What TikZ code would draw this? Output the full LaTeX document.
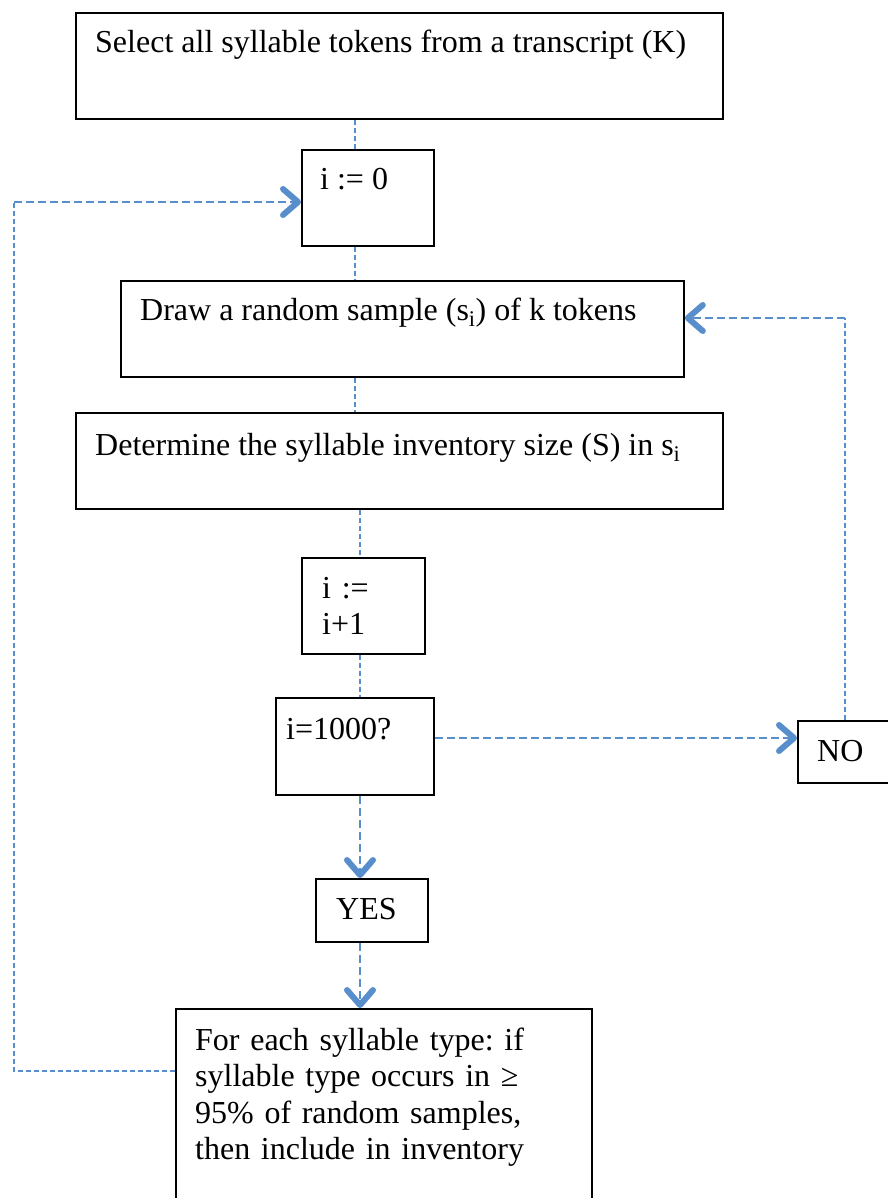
\documentclass[tikz,border=0pt]{standalone}
\usepackage{fontspec}
\setmainfont{Liberation Serif}
\usetikzlibrary{arrows.meta}
\definecolor{flow}{RGB}{88,142,204}
\begin{document}
\begin{tikzpicture}[x=1pt,y=-1pt,
  box/.style={draw=black, line width=1.8pt, inner sep=0pt, anchor=north west},
  txt/.style={inner sep=0pt, anchor=base west, font=\fontsize{32}{36.5}\selectfont\frenchspacing},
  mtxt/.style={txt, text width=#1, align=left},
  thinc/.style={draw=flow, line width=1.4pt, dash pattern=on 5pt off 3pt},
  thickc/.style={draw=flow, line width=2.8pt, dash pattern=on 8pt off 4pt},
  arr/.style={-{Straight Barb[length=15pt,width=26pt,line width=6pt,round]}},
]
\useasboundingbox (0,0) rectangle (887,1198);

% boxes
\node[box, minimum width=647, minimum height=106] (top)  at (75,12)   {};
\node[box, minimum width=132, minimum height=96]  (iz)   at (301,149) {};
\node[box, minimum width=563, minimum height=96]  (samp) at (120,280) {};
\node[box, minimum width=647, minimum height=96]  (det)  at (75,412)  {};
\node[box, minimum width=123, minimum height=96]  (inc)  at (301,557) {};
\node[box, minimum width=158, minimum height=97]  (test) at (275,697) {};
\node[box, minimum width=120, minimum height=62]  (no)   at (797,720) {};
\node[box, minimum width=112, minimum height=63]  (yes)  at (315,878) {};
\node[box, minimum width=416, minimum height=240] (fin)  at (175,1008) {};

% texts
\node[txt] (ttop)  at (95,53)   {Select all syllable tokens from a transcript (K)};
\node[txt] (tiz)   at (320,190) {i := 0};
\node[txt] (tsamp) at (140,320) {Draw a random sample (s\textsubscript{i}) of k tokens};
\node[txt] (tdet)  at (95,455)  {Determine the syllable inventory size (S) in s\textsubscript{i}};
\node[mtxt=100pt] (tinc) at (322,598) {i :=\\ i+1};
\node[txt] (ttest) at (286,739) {i=1000?};
\node[txt] (tno)   at (817,761) {NO};
\node[txt] (tyes)  at (336,919) {YES};
\node[mtxt=400pt] (tfin) at (195,1050) {For each syllable type: if\\ syllable type occurs in ≥\\ 95\% of random samples,\\ then include in inventory};

% helper coordinates
\coordinate (xa) at (355,0);
\coordinate (xb) at (360,0);
\coordinate (xl) at (14,0);
\coordinate (xr) at (845,0);
\coordinate (ya) at (0,1071);
\coordinate (yb) at (0,202);
\coordinate (yc) at (0,318);
\coordinate (yd) at (0,738);

% main spine
\draw[thinc] (xa |- top.south) -- (xa |- iz.north);
\draw[thinc] (xa |- iz.south) -- (xa |- samp.north);
\draw[thinc] (xa |- samp.south) -- (xa |- det.north);
\draw[thinc] (xb |- det.south) -- (xb |- inc.north);
\draw[thinc] (xb |- inc.south) -- (xb |- test.north);
\draw[thickc, arr] (xb |- test.south) -- (xb |- yes.north);
\draw[thickc, arr] (xb |- yes.south) -- (xb |- fin.north);

% NO branch
\draw[thickc, arr] (test.east |- yd) -- (no.west |- yd);
\draw[thinc] (xr |- no.north) -- (xr |- yc);
\draw[thickc, arr] (xr |- yc) -- (samp.east |- yc);

% loop back
\draw[thinc] (fin.west |- ya) -- (xl |- ya) -- (xl |- yb);
\draw[thickc, arr] (xl |- yb) -- (iz.west |- yb);
\end{tikzpicture}
\end{document}
